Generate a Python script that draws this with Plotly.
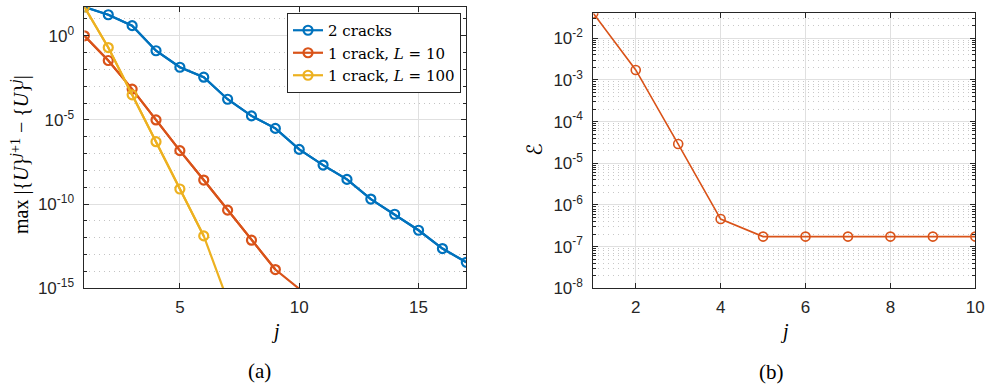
import plotly.graph_objects as go
import numpy as np

# ---------------- data ----------------
j_a = list(range(1, 18))
two_cracks = [51.3, 17.8, 4.0, 0.129, 0.0135, 3.47e-3, 1.70e-4, 1.74e-5, 3.16e-6,
              1.78e-7, 2.09e-8, 2.95e-9, 2.0e-10, 2.5e-11, 2.8e-12, 2.3e-13, 3.5e-14]
j_l10 = list(range(1, 11))
crack_L10 = [1.0, 0.034, 6.8e-4, 1.0e-5, 1.5e-7, 2.7e-9, 4.4e-11, 7.2e-13, 1.3e-14, 9.3e-16]
j_l100 = list(range(1, 8))
crack_L100 = [51.3, 0.2, 3.1e-4, 5.1e-7, 7.9e-10, 1.3e-12, 1.9e-16]

j_b = list(range(1, 11))
eps_b = [0.0398, 1.74e-3, 2.9e-5, 4.6e-7, 1.74e-7, 1.74e-7, 1.74e-7, 1.74e-7, 1.74e-7, 1.74e-7]

names = ["2 cracks", "1 crack, <i>L</i> = 10", "1 crack, <i>L</i> = 100"]
colors = ["#0072BD", "#D95319", "#EDB120"]

ya_ticks = [1e-15, 1e-10, 1e-5, 1e0]
ya_text = ["10<sup>-15</sup>", "10<sup>-10</sup>", "10<sup>-5</sup>", "10<sup>0</sup>"]
yb_ticks = [10.0 ** k for k in range(-8, -1)]
yb_text = ["10<sup>%d</sup>" % k for k in range(-8, -1)]
xa_ticks = [5, 10, 15]
xb_ticks = [2, 4, 6, 8, 10]

YA_MIN = 1e-15
YB_MIN = 1e-8

W, H = 987, 385
def px(x):
    return x / W
def py(y):
    return 1 - y / H

fig = go.Figure()

series = [(j_a, two_cracks), (j_l10, crack_L10), (j_l100, crack_L100)]
for (xs, ys), name, c in zip(series, names, colors):
    # full line (may run below axis floor)
    fig.add_trace(go.Scatter(x=xs, y=ys, mode="lines", line=dict(color=c, width=2.2),
                             showlegend=False, hoverinfo="skip",
                             xaxis="x", yaxis="y"))
    xin = [x for x, y in zip(xs, ys) if y >= YA_MIN]
    yin = [y for y in ys if y >= YA_MIN]
    fig.add_trace(go.Scatter(x=xin, y=yin, mode="lines+markers", name=name,
                             line=dict(color=c, width=2.2),
                             marker=dict(symbol="circle-open", size=9,
                                         line=dict(color=c, width=2.2)),
                             xaxis="x", yaxis="y"))

fig.add_trace(go.Scatter(x=j_b, y=eps_b, mode="lines+markers", showlegend=False,
                         line=dict(color="#D95319", width=1.6),
                         marker=dict(symbol="circle-open", size=9,
                                     line=dict(color="#D95319", width=1.6)),
                         xaxis="x2", yaxis="y2"))

axc = "#262626"
tickfont = dict(family="Liberation Sans, Arial, sans-serif", size=17, color=axc)
common = dict(showline=True, linecolor=axc, linewidth=1, mirror="ticks",
              ticks="inside", ticklen=5, tickcolor=axc, tickwidth=1,
              tickfont=tickfont, showgrid=True, gridcolor="#e0e0e0", gridwidth=1,
              zeroline=False, automargin=False)

def decade_minor(lo, hi, majors):
    return [10.0 ** k for k in range(lo, hi + 1) if 10.0 ** k not in majors]

def sub_minor(lo, hi):
    out = []
    for k in range(lo, hi + 1):
        for m in range(2, 10):
            out.append(m * 10.0 ** k)
    return out

fig.update_layout(
    width=W, height=H, margin=dict(l=0, r=0, t=0, b=0),
    paper_bgcolor="white", plot_bgcolor="white",
    xaxis=dict(domain=[px(84.4), px(466.3)], range=[1, 17], tickvals=xa_ticks,
               anchor="y", ticklabelstandoff=3, **common),
    yaxis=dict(domain=[py(288.3), py(7.0)], type="log",
               range=[np.log10(YA_MIN), np.log10(max(two_cracks))],
               tickvals=ya_ticks, ticktext=ya_text, anchor="x", ticklabelstandoff=6,
               minor=dict(tickmode="array", tickvals=decade_minor(-15, 1, ya_ticks),
                          ticks="inside", ticklen=3, tickcolor=axc, showgrid=True,
                          gridcolor="#c4c4c4", griddash="1px,4px", gridwidth=1),
               **common),
    xaxis2=dict(domain=[px(593.3), px(975.3)], range=[1, 10], tickvals=xb_ticks,
                anchor="y2", ticklabelstandoff=3, **common),
    yaxis2=dict(domain=[py(288.3), py(13.3)], type="log",
                range=[np.log10(YB_MIN), np.log10(max(eps_b))],
                tickvals=yb_ticks, ticktext=yb_text, anchor="x2", ticklabelstandoff=6,
                minor=dict(tickmode="array", tickvals=sub_minor(-8, -2),
                           ticks="inside", ticklen=3, tickcolor=axc, showgrid=True,
                           gridcolor="#c8c8c8", griddash="1px,4px", gridwidth=1),
                **common),
    legend=dict(x=px(461), xanchor="right", y=py(13), yanchor="top",
                bgcolor="white", bordercolor=axc, borderwidth=1, tracegroupgap=0,
                font=dict(family="DejaVu Serif, serif", size=15, color="black")),
    showlegend=True,
)

serif = "Liberation Serif, Times New Roman, serif"
ann = [
    dict(text="max |{<i>U</i>}<sup><i>j</i>+1</sup> − {<i>U</i>}<sup><i>j</i></sup>|",
         x=px(20), y=py(155), textangle=-90, font=dict(family=serif, size=20, color="black")),
    dict(text="ℰ", x=px(535), y=py(150), textangle=-90,
         font=dict(family="DejaVu Sans, serif", size=21, color="black")),
    dict(text="<i>j</i>", x=px(275), y=py(331), font=dict(family=serif, size=20, color="black")),
    dict(text="<i>j</i>", x=px(784), y=py(331), font=dict(family=serif, size=20, color="black")),
    dict(text="(a)", x=px(259), y=py(371), font=dict(family=serif, size=21, color="black")),
    dict(text="(b)", x=px(771), y=py(372), font=dict(family=serif, size=21, color="black")),
]
for a in ann:
    a.update(xref="paper", yref="paper", showarrow=False, xanchor="center", yanchor="middle")
fig.update_layout(annotations=ann)

fig.write_html("out.html")
